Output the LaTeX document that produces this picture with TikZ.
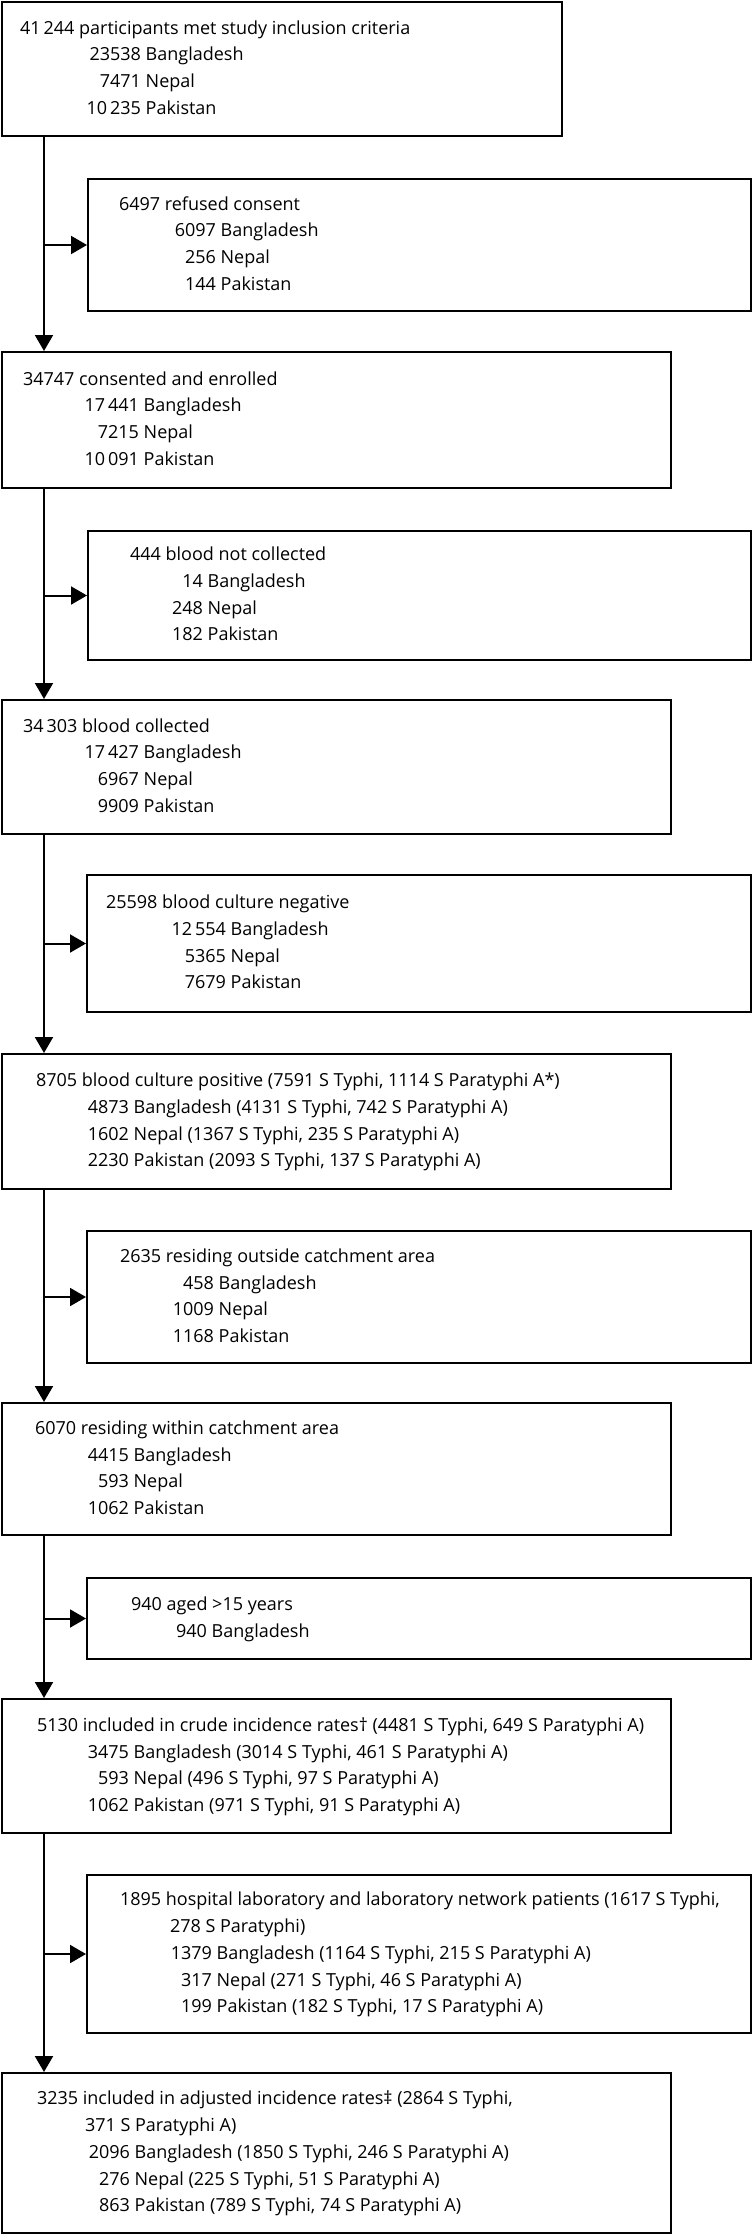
\documentclass[tikz,border=0pt]{standalone}
\usepackage{fontspec}
\setmainfont{Open Sans}
\usetikzlibrary{arrows.meta}

% box width, indent of first line, lines
\newcommand{\boxtext}[3]{\makebox[#1pt][l]{\begin{tabular}{@{\hspace{#2pt}}l@{}}#3\end{tabular}}}
\newcommand{\nr}[3]{\makebox[#1pt][r]{#2}\ #3}

\begin{document}
\begin{tikzpicture}[x=1pt, y=-1pt,
    flowbox/.style={draw, line width=2pt, anchor=north west, inner sep=0pt,
        font=\fontsize{18}{26.7}\selectfont},
    arr/.style={line width=2pt, -{Triangle[length=16pt,width=18pt]}}]
    \useasboundingbox (0,0) rectangle (752,2234);
    \coordinate (trunk) at (44,0);

    \node[flowbox, minimum height=134pt] (incl) at (1,1)
        {\boxtext{560}{18}{41\,244 participants met study inclusion criteria\\
         \nr{121}{23538}{Bangladesh}\\
         \nr{121}{7471}{Nepal}\\
         \nr{121}{10\,235}{Pakistan}}};
    \node[flowbox, minimum height=132pt] (refuse) at (87,178)
        {\boxtext{663}{31}{6497 refused consent\\
         \nr{97}{6097}{Bangladesh}\\
         \nr{97}{256}{Nepal}\\
         \nr{97}{144}{Pakistan}}};
    \node[flowbox, minimum height=136pt] (enrol) at (1,351)
        {\boxtext{669}{21}{34747 consented and enrolled\\
         \nr{116}{17\,441}{Bangladesh}\\
         \nr{116}{7215}{Nepal}\\
         \nr{116}{10\,091}{Pakistan}}};
    \node[flowbox, minimum height=129pt] (nocoll) at (87,530)
        {\boxtext{663}{42}{444 blood not collected\\
         \nr{73}{14}{Bangladesh}\\
         \nr{73}{248}{Nepal}\\
         \nr{73}{182}{Pakistan}}};
    \node[flowbox, minimum height=134pt] (coll) at (1,699)
        {\boxtext{669}{21}{34\,303 blood collected\\
         \nr{116}{17\,427}{Bangladesh}\\
         \nr{116}{6967}{Nepal}\\
         \nr{116}{9909}{Pakistan}}};
    \node[flowbox, minimum height=137pt] (neg) at (86,874)
        {\boxtext{664}{19}{25598 blood culture negative\\
         \nr{120}{12\,554}{Bangladesh}\\
         \nr{120}{5365}{Nepal}\\
         \nr{120}{7679}{Pakistan}}};
    \node[flowbox, minimum height=135pt] (pos) at (1,1053)
        {\boxtext{669}{34}{8705 blood culture positive (7591 S Typhi, 1114 S Paratyphi A*)\\
         \nr{93}{4873}{Bangladesh (4131 S Typhi, 742 S Paratyphi A)}\\
         \nr{93}{1602}{Nepal (1367 S Typhi, 235 S Paratyphi A)}\\
         \nr{93}{2230}{Pakistan (2093 S Typhi, 137 S Paratyphi A)}}};
    \node[flowbox, minimum height=132pt] (outside) at (86,1230)
        {\boxtext{664}{33}{2635 residing outside catchment area\\
         \nr{94}{458}{Bangladesh}\\
         \nr{94}{1009}{Nepal}\\
         \nr{94}{1168}{Pakistan}}};
    \node[flowbox, minimum height=132pt] (within) at (1,1402)
        {\boxtext{669}{33}{6070 residing within catchment area\\
         \nr{94}{4415}{Bangladesh}\\
         \nr{94}{593}{Nepal}\\
         \nr{94}{1062}{Pakistan}}};
    \node[flowbox, minimum height=81pt] (aged) at (86,1577)
        {\boxtext{664}{44}{940 aged >15 years\\
         \nr{76}{940}{Bangladesh}}};
    \node[flowbox, minimum height=134pt] (crude) at (1,1698)
        {\boxtext{669}{35}{5130 included in crude incidence rates\textdagger{} (4481 S Typhi, 649 S Paratyphi A)\\
         \nr{92}{3475}{Bangladesh (3014 S Typhi, 461 S Paratyphi A)}\\
         \nr{92}{593}{Nepal (496 S Typhi, 97 S Paratyphi A)}\\
         \nr{92}{1062}{Pakistan (971 S Typhi, 91 S Paratyphi A)}}};
    \node[flowbox, minimum height=158pt] (hosp) at (86,1874)
        {\boxtext{664}{33}{1895 hospital laboratory and laboratory network patients (1617 S Typhi,\\
         \hspace*{50pt}278 S Paratyphi)\\
         \nr{92}{1379}{Bangladesh (1164 S Typhi, 215 S Paratyphi A)}\\
         \nr{92}{317}{Nepal (271 S Typhi, 46 S Paratyphi A)}\\
         \nr{92}{199}{Pakistan (182 S Typhi, 17 S Paratyphi A)}}};
    \node[flowbox, minimum height=160pt] (adj) at (1,2072)
        {\boxtext{669}{35}{3235 included in adjusted incidence rates\textdaggerdbl{} (2864 S Typhi,\\
         \hspace*{48pt}371 S Paratyphi A)\\
         \nr{93}{2096}{Bangladesh (1850 S Typhi, 246 S Paratyphi A)}\\
         \nr{93}{276}{Nepal (225 S Typhi, 51 S Paratyphi A)}\\
         \nr{93}{863}{Pakistan (789 S Typhi, 74 S Paratyphi A)}}};

    % main line down the left side
    \foreach \a/\b in {incl/enrol, enrol/coll, coll/pos, pos/within, within/crude, crude/adj}
        \draw[arr] ([xshift=43pt]\a.south west) -- ([xshift=43pt]\b.north west);
    % exclusions
    \foreach \s in {refuse, nocoll, neg, outside, aged, hosp}
        \draw[arr] (\s.west -| trunk) -- (\s.west);
\end{tikzpicture}
\end{document}
